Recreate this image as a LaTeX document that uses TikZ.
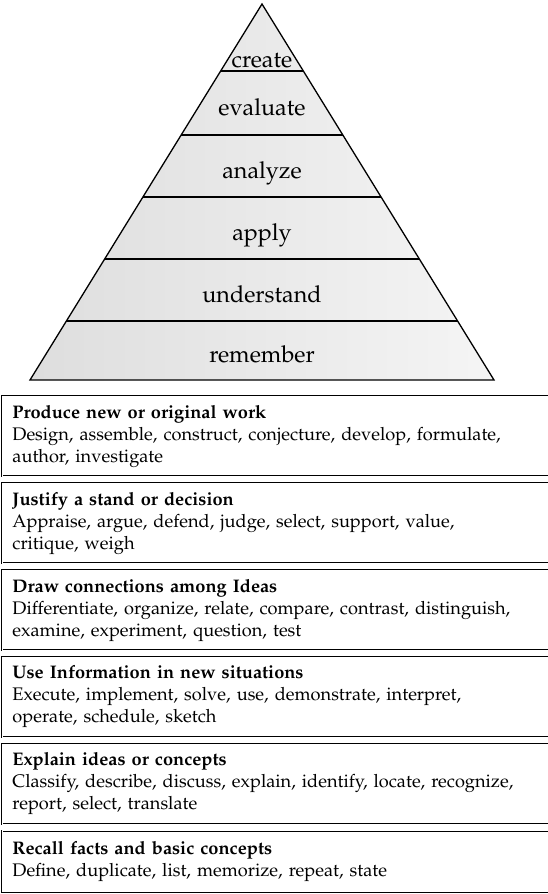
\documentclass[tikz,border=0pt]{standalone}
\usepackage[T1]{fontenc}
\usepackage{palatino}
\usetikzlibrary{calc,positioning}

\tikzset{
  level/.style={anchor=base, font=\fontsize{23.3}{27}\selectfont},
  infobox/.style={draw, double, line width=0.85pt, double distance=0.4pt,
    align=left, text width=528pt, inner xsep=10pt, inner ysep=0pt,
    font=\fontsize{18.2}{22}\selectfont},
}

\begin{document}
\begin{tikzpicture}[x=1pt,y=-1pt]
  \useasboundingbox (0,0) rectangle (547,894);

  \coordinate (T) at (262,4);   % apex
  \coordinate (L) at (30,380);  % base left
  \coordinate (R) at (494,380); % base right

  \shade[left color=black!13, right color=black!4] (T) -- (L) -- (R) -- cycle;
  \foreach \t [count=\i] in {0.178,0.348,0.513,0.678,0.843}
    \draw[line width=1.3pt] ($(T)!\t!(L)$) coordinate (l\i) -- ($(T)!\t!(R)$) coordinate (r\i);
  \draw[line width=1.3pt, line join=miter] (T) -- (L) -- (R) -- cycle;

  \node[level] (create) at (262,67) {create};
  \node[level] (evaluate) at (262,115) {evaluate};
  \node[level] (analyze) at (262,178) {analyze};
  \node[level] (apply) at (262,240) {apply};
  \node[level] (understand) at (262,302) {understand};
  \node[level] (remember) at (262,362) {remember};

  % description boxes
  \node[infobox, anchor=north west, minimum height=80pt] (b1) at (2,396)
    {\textbf{Produce new or original work}\\
     Design, assemble, construct, conjecture, develop, formulate,\\
     author, investigate};
  \node[infobox, minimum height=80pt, below=6pt of b1] (b2)
    {\textbf{Justify a stand or decision}\\
     Appraise, argue, defend, judge, select, support, value,\\
     critique, weigh};
  \node[infobox, minimum height=80pt, below=6pt of b2] (b3)
    {\textbf{Draw connections among Ideas}\\
     Differentiate, organize, relate, compare, contrast, distinguish,\\
     examine, experiment, question, test};
  \node[infobox, minimum height=80pt, below=6pt of b3] (b4)
    {\textbf{Use Information in new situations}\\
     Execute, implement, solve, use, demonstrate, interpret,\\
     operate, schedule, sketch};
  \node[infobox, minimum height=80pt, below=6pt of b4] (b5)
    {\textbf{Explain ideas or concepts}\\
     Classify, describe, discuss, explain, identify, locate, recognize,\\
     report, select, translate};
  \node[infobox, minimum height=61pt, below=6pt of b5] (b6)
    {\textbf{Recall facts and basic concepts}\\
     Define, duplicate, list, memorize, repeat, state};
\end{tikzpicture}
\end{document}
